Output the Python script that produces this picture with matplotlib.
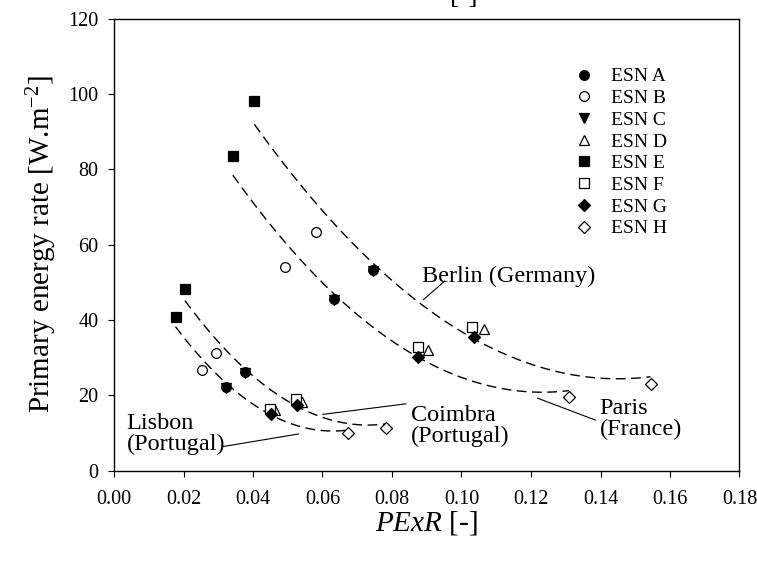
# Primary energy rate vs PExR for four cities, ESN A-H, with quadratic trend lines
import numpy as np
import matplotlib
matplotlib.use("Agg")
import matplotlib.pyplot as plt

plt.rcParams['font.family'] = ['Liberation Serif', 'DejaVu Serif']
plt.rcParams['mathtext.fontset'] = 'custom'
plt.rcParams['mathtext.rm'] = 'Liberation Serif'
plt.rcParams['mathtext.it'] = 'Liberation Serif:italic'

# city order in every list: Lisbon, Coimbra, Paris, Berlin
cities = ["Lisbon (Portugal)", "Coimbra (Portugal)", "Paris (France)", "Berlin (Germany)"]

esn_a_x = [0.0323, 0.0376, 0.0632, 0.0745]
esn_a_y = [22.3, 26.1, 45.5, 53.2]
esn_b_x = [0.0253, 0.0293, 0.0492, 0.0581]
esn_b_y = [26.7, 31.1, 53.9, 63.2]
esn_c_x = [0.0323, 0.0376, 0.0632, 0.0745]
esn_c_y = [22.0, 25.8, 45.2, 52.9]
esn_d_x = [0.0464, 0.0540, 0.0905, 0.1066]
esn_d_y = [16.1, 18.3, 32.0, 37.6]
esn_e_x = [0.0177, 0.0204, 0.0342, 0.0404]
esn_e_y = [40.7, 48.2, 83.6, 98.0]
esn_f_x = [0.0449, 0.0523, 0.0874, 0.1030]
esn_f_y = [16.2, 18.9, 32.9, 38.2]
esn_g_x = [0.0451, 0.0526, 0.0876, 0.1035]
esn_g_y = [14.9, 17.4, 30.2, 35.5]
esn_h_x = [0.0672, 0.0782, 0.1309, 0.1544]
esn_h_y = [9.9, 11.4, 19.6, 23.0]

labels = ["ESN A", "ESN B", "ESN C", "ESN D", "ESN E", "ESN F", "ESN G", "ESN H"]
xs = [esn_a_x, esn_b_x, esn_c_x, esn_d_x, esn_e_x, esn_f_x, esn_g_x, esn_h_x]
ys = [esn_a_y, esn_b_y, esn_c_y, esn_d_y, esn_e_y, esn_f_y, esn_g_y, esn_h_y]
markers = ["o", "o", "v", "^", "s", "s", "D", "D"]
filled = [True, False, True, False, True, False, True, False]
sizes = [7, 7, 7, 7, 7, 7, 6, 6]

fig = plt.figure(figsize=(7.57, 5.62), dpi=100)
ax = fig.add_axes([114 / 757, 1 - 470.5 / 562, 625.5 / 757, 452 / 562])

# dashed quadratic trend line per city
for i in range(len(cities)):
    cx = np.array([s[i] for s in xs])
    cy = np.array([s[i] for s in ys])
    coef = np.polyfit(cx, cy, 2)
    xx = np.linspace(cx.min(), cx.max(), 200)
    ax.plot(xx, np.polyval(coef, xx), color="black", lw=1.0, dashes=(7, 4), zorder=1)

for x, y, lab, m, f, s in zip(xs, ys, labels, markers, filled, sizes):
    ax.plot(x, y, linestyle="none", marker=m, markersize=s,
            markerfacecolor="black" if f else "white", markeredgecolor="black",
            markeredgewidth=0.9, label=lab, zorder=3)

# city labels with leader lines
ax.text(0.0886, 50.1, "Berlin (Germany)", fontsize=17.5, va="baseline", ha="left")
ax.plot([0.0952, 0.0891], [50.3, 45.4], color="black", lw=0.8)
ax.text(0.1397, 13.7, "Paris\n(France)", fontsize=17.5, va="center", ha="left", linespacing=1.0)
ax.plot([0.1385, 0.1219], [13.4, 19.2], color="black", lw=0.8)
ax.text(0.0854, 11.8, "Coimbra\n(Portugal)", fontsize=17.5, va="center", ha="left", linespacing=1.0)
ax.plot([0.0840, 0.0601], [17.7, 14.9], color="black", lw=0.8)
ax.text(0.0036, 9.7, "Lisbon\n(Portugal)", fontsize=17.5, va="center", ha="left", linespacing=1.0)
ax.plot([0.0310, 0.0531], [6.3, 9.7], color="black", lw=0.8)

ax.set_xlim(0, 0.18)
ax.set_ylim(0, 120)
ax.set_xticks(np.arange(0, 0.181, 0.02))
ax.set_xticklabels([f"{v:.2f}" for v in np.arange(0, 0.181, 0.02)])
ax.set_yticks(np.arange(0, 121, 20))
ax.tick_params(direction="out", length=4, width=0.8, labelsize=14.5, top=False, right=False)
ax.tick_params(axis="x", pad=10)
ax.tick_params(axis="y", pad=7)
for sp in ax.spines.values():
    sp.set_linewidth(1.0)

ax.set_xlabel(r"$\mathit{PExR}$ [-]", fontsize=21, labelpad=0)
ax.set_ylabel(r"Primary energy rate [W.m$^{-2}$]", fontsize=21, labelpad=7)

ax.legend(loc="upper left", bbox_to_anchor=(0.72, 0.908), frameon=False, fontsize=14,
          handletextpad=0.8, labelspacing=0.21, borderaxespad=0, handlelength=1.2)

fig.text(0.612, 1 - 3 / 562, "[-]", fontsize=20, ha="center", va="baseline")

fig.savefig("out.png", dpi=100)
